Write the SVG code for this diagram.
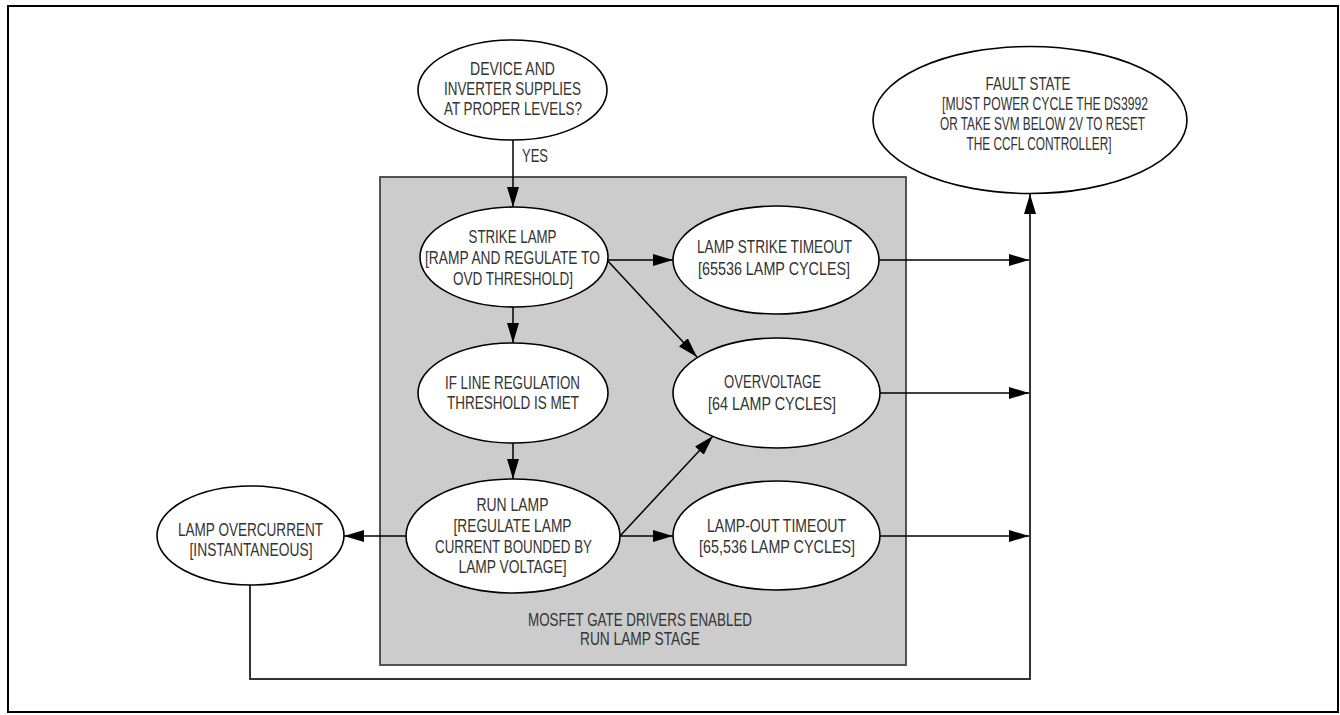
<svg xmlns="http://www.w3.org/2000/svg" width="1340" height="715" viewBox="0 0 1340 715">
<style>
.n{fill:#fff;stroke:#000;stroke-width:1.6}
.t{font-family:"Liberation Sans",Arial,sans-serif;font-size:18px;fill:#333;text-anchor:middle}
.c{fill:none;stroke:#000;stroke-width:1.5}
.fb{fill:none;stroke:#333;stroke-width:2}
</style>
<defs>
<marker id="ah" markerUnits="userSpaceOnUse" markerWidth="20" markerHeight="12" refX="20" refY="6" orient="auto">
<path d="M0,0 L20,6 L0,12 z" fill="#000"/>
</marker>
</defs>
<rect x="0" y="0" width="1340" height="715" fill="#fff"/>
<rect id="frame" x="8" y="6" width="1330" height="706" fill="none" stroke="#000" stroke-width="2"/>
<g id="stage">
<rect x="380" y="177" width="526" height="488" fill="#cccccc" stroke="#444" stroke-width="1.8"/>
<text class="t" x="640" y="626" textLength="224" lengthAdjust="spacingAndGlyphs">MOSFET GATE DRIVERS ENABLED</text>
<text class="t" x="640" y="645" textLength="120" lengthAdjust="spacingAndGlyphs">RUN LAMP STAGE</text>
</g>
<g id="connectors">
<line class="c" x1="513" y1="140" x2="513" y2="207" marker-end="url(#ah)"/>
<text class="t" x="522" y="162" style="text-anchor:start" textLength="26" lengthAdjust="spacingAndGlyphs">YES</text>
<line class="c" x1="513" y1="307" x2="513" y2="343" marker-end="url(#ah)"/>
<line class="c" x1="513" y1="443" x2="513" y2="479" marker-end="url(#ah)"/>
<line class="c" x1="607" y1="260" x2="673" y2="260" marker-end="url(#ah)"/>
<line class="c" x1="607" y1="260" x2="697" y2="357" marker-end="url(#ah)"/>
<line class="c" x1="620" y1="536" x2="713" y2="436" marker-end="url(#ah)"/>
<line class="c" x1="620" y1="536" x2="673" y2="536" marker-end="url(#ah)"/>
<line class="c" x1="406" y1="536" x2="344" y2="536" marker-end="url(#ah)"/>
<line class="c" x1="879" y1="260" x2="1029" y2="260" marker-end="url(#ah)"/>
<line class="c" x1="880" y1="393" x2="1029" y2="393" marker-end="url(#ah)"/>
<line class="c" x1="880" y1="536" x2="1029" y2="536" marker-end="url(#ah)"/>
<path class="fb" d="M250,585 V679 H1030 V194" marker-end="url(#ah)"/>
</g>
<g id="device">
<ellipse class="n" cx="512.5" cy="90" rx="94.5" ry="50"/>
<text class="t" x="512.5" y="75" textLength="85" lengthAdjust="spacingAndGlyphs">DEVICE AND</text>
<text class="t" x="512.5" y="95" textLength="137" lengthAdjust="spacingAndGlyphs">INVERTER SUPPLIES</text>
<text class="t" x="513" y="115" textLength="138" lengthAdjust="spacingAndGlyphs">AT PROPER LEVELS?</text>
</g>
<g id="fault">
<ellipse class="n" cx="1030" cy="120" rx="157" ry="73.5"/>
<text class="t" x="1028" y="90" textLength="85" lengthAdjust="spacingAndGlyphs">FAULT STATE</text>
<text class="t" x="1045" y="110" textLength="206" lengthAdjust="spacingAndGlyphs">[MUST POWER CYCLE THE DS3992</text>
<text class="t" x="1042.5" y="130" textLength="205" lengthAdjust="spacingAndGlyphs">OR TAKE SVM BELOW 2V TO RESET</text>
<text class="t" x="1039" y="150" textLength="145" lengthAdjust="spacingAndGlyphs">THE CCFL CONTROLLER]</text>
</g>
<g id="strike">
<ellipse class="n" cx="514" cy="257" rx="94" ry="50"/>
<text class="t" x="512.5" y="243" textLength="88" lengthAdjust="spacingAndGlyphs">STRIKE LAMP</text>
<text class="t" x="512.5" y="264" textLength="175" lengthAdjust="spacingAndGlyphs">[RAMP AND REGULATE TO</text>
<text class="t" x="513" y="285" textLength="120" lengthAdjust="spacingAndGlyphs">OVD THRESHOLD]</text>
</g>
<g id="lineReg">
<ellipse class="n" cx="513" cy="393" rx="95" ry="50"/>
<text class="t" x="512.5" y="389" textLength="135" lengthAdjust="spacingAndGlyphs">IF LINE REGULATION</text>
<text class="t" x="513" y="409" textLength="132" lengthAdjust="spacingAndGlyphs">THRESHOLD IS MET</text>
</g>
<g id="runLamp">
<ellipse class="n" cx="513" cy="536" rx="107" ry="57"/>
<text class="t" x="512.5" y="511" textLength="72" lengthAdjust="spacingAndGlyphs">RUN LAMP</text>
<text class="t" x="512.5" y="532" textLength="118" lengthAdjust="spacingAndGlyphs">[REGULATE LAMP</text>
<text class="t" x="513.5" y="553" textLength="157" lengthAdjust="spacingAndGlyphs">CURRENT BOUNDED BY</text>
<text class="t" x="512.5" y="573" textLength="108" lengthAdjust="spacingAndGlyphs">LAMP VOLTAGE]</text>
</g>
<g id="overcurrent">
<ellipse class="n" cx="250.5" cy="535.5" rx="93.5" ry="49.5"/>
<text class="t" x="250.5" y="536" textLength="145" lengthAdjust="spacingAndGlyphs">LAMP OVERCURRENT</text>
<text class="t" x="251" y="556" textLength="123" lengthAdjust="spacingAndGlyphs">[INSTANTANEOUS]</text>
</g>
<g id="strikeTimeout">
<ellipse class="n" cx="776" cy="260" rx="103" ry="54"/>
<text class="t" x="774.5" y="253" textLength="155" lengthAdjust="spacingAndGlyphs">LAMP STRIKE TIMEOUT</text>
<text class="t" x="774" y="275" textLength="152" lengthAdjust="spacingAndGlyphs">[65536 LAMP CYCLES]</text>
</g>
<g id="overvoltage">
<ellipse class="n" cx="776.5" cy="393" rx="103.5" ry="55"/>
<text class="t" x="772.5" y="388" textLength="97" lengthAdjust="spacingAndGlyphs">OVERVOLTAGE</text>
<text class="t" x="772" y="410" textLength="128" lengthAdjust="spacingAndGlyphs">[64 LAMP CYCLES]</text>
</g>
<g id="lampOut">
<ellipse class="n" cx="776.5" cy="535.5" rx="103.5" ry="54.5"/>
<text class="t" x="776.5" y="532" textLength="139" lengthAdjust="spacingAndGlyphs">LAMP-OUT TIMEOUT</text>
<text class="t" x="777" y="553" textLength="156" lengthAdjust="spacingAndGlyphs">[65,536 LAMP CYCLES]</text>
</g>
</svg>
